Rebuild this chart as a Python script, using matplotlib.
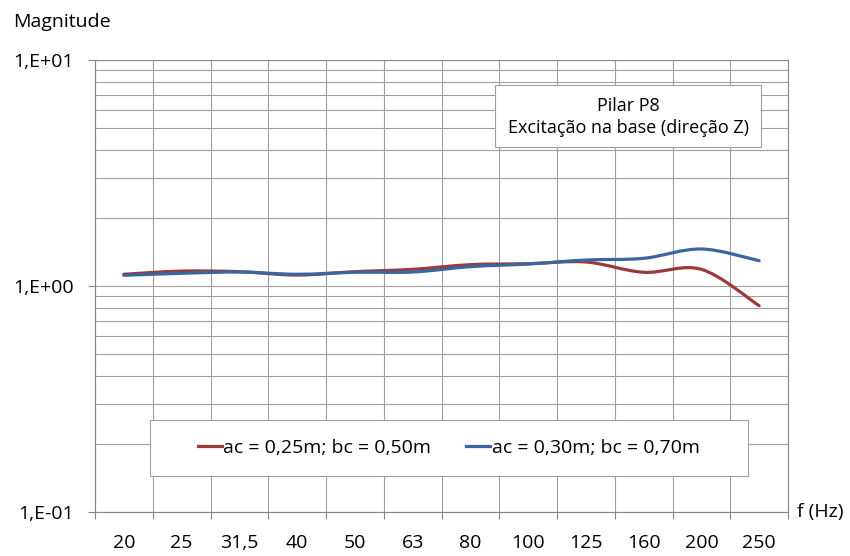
import numpy as np
import matplotlib
matplotlib.use('Agg')
import matplotlib.pyplot as plt
from matplotlib.path import Path
from matplotlib.patches import PathPatch, Rectangle
from matplotlib.lines import Line2D
from matplotlib.ticker import FixedLocator, NullFormatter
import matplotlib.transforms as mtransforms

plt.rcParams['font.family'] = ['Open Sans', 'DejaVu Sans']

freqs = ['20', '25', '31,5', '40', '50', '63', '80', '100', '125', '160', '200', '250']
red = [1.127, 1.164, 1.157, 1.118, 1.157, 1.185, 1.243, 1.255, 1.277, 1.150, 1.185, 0.818]
blue = [1.115, 1.138, 1.153, 1.127, 1.150, 1.153, 1.218, 1.251, 1.303, 1.326, 1.458, 1.294]
series_labels = ['ac = 0,25m; bc = 0,50m', 'ac = 0,30m; bc = 0,70m']
series_colors = ['#9b3b39', '#3b65a0']
ytick_vals = [0.1, 1.0, 10.0]
ytick_labels = ['1,E-01', '1,E+00', '1,E+01']

FS = 14
W, H = 850, 556
fig = plt.figure(figsize=(W / 100, H / 100), dpi=100)
ax = fig.add_axes([95 / W, 1 - 512 / H, (788 - 95) / W, (512 - 60) / H])
ax.set_yscale('log')
ax.set_ylim(0.1, 10)
n = len(freqs)
ax.set_xlim(-0.5, n - 0.5)

grid_c = '#a0a0a0'
ax.xaxis.set_major_locator(FixedLocator(np.arange(n)))
ax.set_xticklabels([''] * n)
ax.xaxis.set_minor_locator(FixedLocator(np.arange(n + 1) - 0.5))
ax.tick_params(axis='x', which='major', length=0)
ax.tick_params(axis='x', which='minor', length=5, width=0.8, color='#868686')
ax.grid(True, axis='x', which='minor', color=grid_c, lw=0.8)

# category labels, aligned on a common baseline
trans = mtransforms.blended_transform_factory(ax.transData, ax.transAxes)
for i, f in enumerate(freqs):
    ax.text(i, (512 - 548) / 452, f, transform=trans, ha='center', va='baseline',
            fontsize=FS, clip_on=False)

ax.yaxis.set_major_locator(FixedLocator(ytick_vals))
ax.set_yticklabels(ytick_labels)
minor_y = [m * 10.0 ** k for k in (-1, 0) for m in range(2, 10)]
ax.yaxis.set_minor_locator(FixedLocator(minor_y))
ax.yaxis.set_minor_formatter(NullFormatter())
ax.tick_params(axis='y', which='major', length=5, width=0.8, color='#868686', pad=10, labelsize=FS)
ax.tick_params(axis='y', which='minor', length=0)
ax.grid(True, axis='y', which='both', color=grid_c, lw=0.8)
ax.set_axisbelow(True)
for s in ax.spines.values():
    s.set_color('#868686')
    s.set_linewidth(0.8)


def smooth_path(xs, ys):
    # Catmull-Rom style bezier in (x, log y) space, like a smoothed line
    xs = np.asarray(xs, float)
    ls = np.log10(np.asarray(ys, float))
    P = np.column_stack([xs, ls])
    verts = [P[0]]
    codes = [Path.MOVETO]
    m = len(P)
    for i in range(m - 1):
        p0 = P[i - 1] if i > 0 else P[i]
        p1 = P[i]
        p2 = P[i + 1]
        p3 = P[i + 2] if i + 2 < m else P[i + 1]
        c1 = p1 + (p2 - p0) / 6.0
        c2 = p2 - (p3 - p1) / 6.0
        verts += [c1, c2, p2]
        codes += [Path.CURVE4] * 3
    verts = np.array(verts)
    verts[:, 1] = 10 ** verts[:, 1]
    return Path(verts, codes)


x = np.arange(n)
for vals, c in zip([red, blue], series_colors):
    patch = PathPatch(smooth_path(x, vals), facecolor='none', edgecolor=c,
                      lw=2.3, capstyle='round', joinstyle='round')
    ax.add_patch(patch)

# Legend
handles = [Line2D([], [], color=c, lw=2.3) for c in series_colors]
leg = fig.legend(handles, series_labels, loc='center', bbox_to_anchor=(449 / W, 1 - 448 / H),
                 ncol=2, frameon=False, fontsize=FS, handlelength=1.2, handletextpad=0.1,
                 columnspacing=1.8)
fig.patches.append(Rectangle((150 / W, 1 - 476 / H), (748 - 150) / W, (476 - 420) / H,
                             transform=fig.transFigure, facecolor='white',
                             edgecolor='#a0a0a0', lw=0.8, zorder=0))
leg.set_zorder(5)

# Title box
fig.patches.append(Rectangle((495 / W, 1 - 147 / H), (761 - 495) / W, (147 - 85) / H,
                             transform=fig.transFigure, facecolor='white',
                             edgecolor='#a0a0a0', lw=0.8, zorder=0))
fig.text(628 / W, 1 - 117 / H, 'Pilar P8\nExcitação na base (direção Z)', ha='center',
         va='center', fontsize=13, linespacing=1.25, zorder=6)

fig.text(13 / W, 1 - 22 / H, 'Magnitude', ha='left', va='center', fontsize=FS)
fig.text(797 / W, 1 - 512 / H, 'f (Hz)', ha='left', va='center', fontsize=FS)

fig.savefig('out.png', dpi=100)
